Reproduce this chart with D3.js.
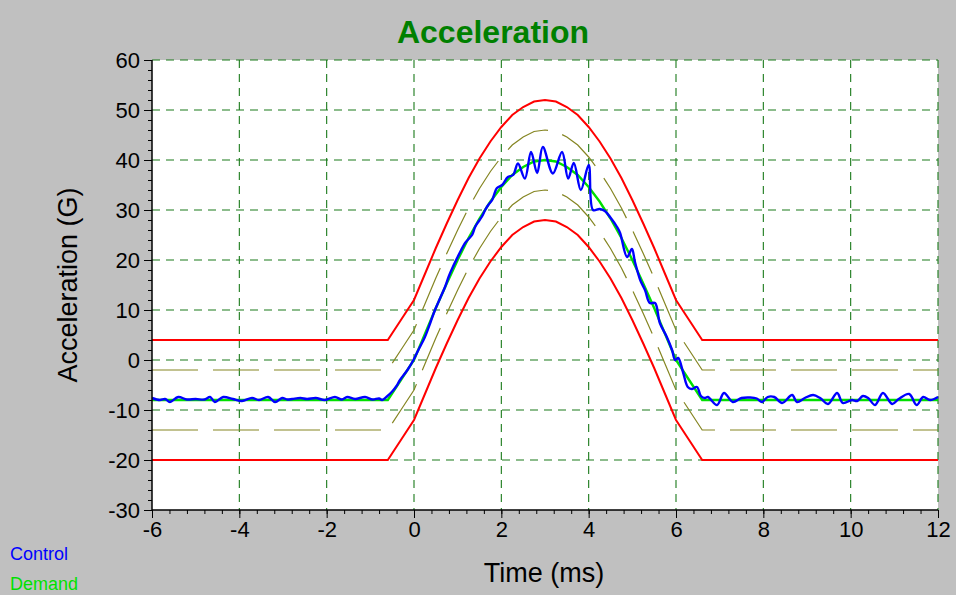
<!DOCTYPE html>
<html>
<head>
<meta charset="utf-8">
<script src="https://cdn.jsdelivr.net/npm/d3@7"></script>
<style>
  html, body { margin: 0; padding: 0; background: #c0c0c0; }
  svg { display: block; }
  text { font-family: "Liberation Sans", Arial, sans-serif; }
</style>
</head>
<body>
<svg id="chart" width="956" height="595"></svg>
<script>
// ---- Data ----
const chartTitle = "Acceleration";
const xLabel = "Time (ms)";
const yLabel = "Acceleration (G)";
const xTicks = [-6, -4, -2, 0, 2, 4, 6, 8, 10, 12];
const yTicks = [-30, -20, -10, 0, 10, 20, 30, 40, 50, 60];

// Reference profile time points (ms)
const profileTime = [-6, -0.6, -0.3, 0, 0.25, 0.5, 0.75, 1, 1.25, 1.5, 1.75, 2, 2.25, 2.5, 2.75, 3,
  3.25, 3.5, 3.75, 4, 4.25, 4.5, 4.75, 5, 5.25, 5.5, 5.75, 6, 6.3, 6.6, 12];
// Demand (G)
const demand = [-8, -8, -4, 0, 5.2, 10.4, 15.3, 20, 24.4, 28.3, 31.7, 34.6, 37, 38.6, 39.7, 40,
  39.7, 38.6, 37, 34.6, 31.7, 28.3, 24.4, 20, 15.3, 10.4, 5.2, 0, -4, -8, -8];
// Abort limits (red)
const abortUpper = [4, 4, 8, 12, 17.2, 22.4, 27.3, 32, 36.4, 40.3, 43.7, 46.6, 49, 50.6, 51.7, 52,
  51.7, 50.6, 49, 46.6, 43.7, 40.3, 36.4, 32, 27.3, 22.4, 17.2, 12, 8, 4, 4];
const abortLower = [-20, -20, -16, -12, -6.8, -1.6, 3.3, 8, 12.4, 16.3, 19.7, 22.6, 25, 26.6, 27.7, 28,
  27.7, 26.6, 25, 22.6, 19.7, 16.3, 12.4, 8, 3.3, -1.6, -6.8, -12, -16, -20, -20];
// Alarm limits (olive dashed)
const alarmUpper = [-2, -2, 2, 6, 11.2, 16.4, 21.3, 26, 30.4, 34.3, 37.7, 40.6, 43, 44.6, 45.7, 46,
  45.7, 44.6, 43, 40.6, 37.7, 34.3, 30.4, 26, 21.3, 16.4, 11.2, 6, 2, -2, -2];
const alarmLower = [-14, -14, -10, -6, -0.8, 4.4, 9.3, 14, 18.4, 22.3, 25.7, 28.6, 31, 32.6, 33.7, 34,
  33.7, 32.6, 31, 28.6, 25.7, 22.3, 18.4, 14, 9.3, 4.4, -0.8, -6, -10, -14, -14];

// Control (measured) time points and values
const controlTime = [-6, -5.82, -5.7, -5.59, -5.4, -5.2, -5.0, -4.8, -4.67, -4.56, -4.37, -4.15, -3.94,
  -3.71, -3.55, -3.34, -3.18, -3.02, -2.9, -2.79, -2.6, -2.45, -2.25, -2.04, -1.81, -1.65, -1.53, -1.35,
  -1.12, -0.95, -0.8, -0.73, -0.62, -0.5, -0.4, -0.32, -0.15, 0, 0.1, 0.25, 0.38, 0.48, 0.6, 0.71, 0.8,
  0.89, 1.0, 1.08, 1.17, 1.25, 1.33, 1.4, 1.47, 1.55, 1.63, 1.7, 1.79, 1.9, 2.02, 2.15, 2.27, 2.38, 2.54,
  2.68, 2.82, 2.95, 3.18, 3.39, 3.53, 3.66, 3.82, 4.0, 4.1, 4.25, 4.37, 4.49, 4.65, 4.72, 4.88, 4.99,
  5.06, 5.18, 5.29, 5.4, 5.52, 5.63, 5.79, 5.91, 5.98, 6.05, 6.16, 6.27, 6.36, 6.48, 6.57, 6.66, 6.73,
  6.94, 7.1, 7.3, 7.5, 7.7, 7.85, 7.97, 8.1, 8.25, 8.43, 8.66, 8.77, 8.95, 9.14, 9.3, 9.48, 9.69, 9.82,
  10.03, 10.15, 10.28, 10.4, 10.56, 10.74, 10.95, 11.1, 11.34, 11.51, 11.66, 11.82, 12];
const control = [-7.6, -8, -7.8, -8.4, -7.4, -7.9, -7.8, -7.9, -7.4, -8.4, -7.4, -7.8, -8.2,
  -7.6, -8.0, -7.4, -8.4, -7.6, -7.9, -7.8, -7.6, -7.8, -7.6, -8.0, -7.4, -7.9, -7.4, -7.8,
  -7.4, -7.9, -7.7, -8.0, -7.3, -6.3, -5.2, -4, -2, 0.2, 2, 4.6, 7.6, 10, 12.4, 14.6, 16.8,
  18.6, 20.6, 22, 23.4, 24.2, 25, 26.6, 27.6, 28.6, 30, 31, 32, 34.4, 35, 36.6, 37, 39.3, 36.3,
  41.6, 37.4, 42.6, 37.3, 41.6, 36.3, 39.4, 34, 39, 30, 30.2, 29.8, 28.6, 26.6, 25.4, 20.6, 22.2,
  19.6, 16, 14, 11.4, 11.4, 7.4, 4.6, 2, 0, 0.4, -2.4, -5.4, -5.8, -5.4, -7.2, -7.6, -7.4,
  -9, -6.6, -8.4, -7.6, -7.5, -7.7, -8.4, -7.4, -7.4, -8.6, -7, -8.4, -7.6, -7, -7.6, -8.8, -6.6, -8.6,
  -8, -8.2, -7.2, -7.6, -9, -6.6, -8.8, -7.8, -6.8, -9, -7.4, -8, -7.4];

const legendItems = [
  { name: "Control", color: "#0000ff" },
  { name: "Demand", color: "#00e000" }
];

// ---- Drawing ----
const svg = d3.select("#chart");
const W = 956, H = 595;
const plot = { left: 152, right: 938, top: 60, bottom: 510 };

svg.append("rect").attr("width", W).attr("height", H).attr("fill", "#c0c0c0");
svg.append("rect")
  .attr("x", plot.left).attr("y", plot.top)
  .attr("width", plot.right - plot.left).attr("height", plot.bottom - plot.top)
  .attr("fill", "#ffffff");

const x = d3.scaleLinear().domain([-6, 12]).range([plot.left, plot.right]);
const y = d3.scaleLinear().domain([-30, 60]).range([plot.bottom, plot.top]);

// Grid
const gridColor = "#1a7a1a";
const grid = svg.append("g");
grid.selectAll("line.vg").data(xTicks.filter(d => d > -6)).join("line")
  .attr("x1", d => x(d)).attr("x2", d => x(d))
  .attr("y1", plot.top).attr("y2", plot.bottom)
  .attr("stroke", gridColor).attr("stroke-width", 1.1).attr("stroke-dasharray", "8,6");
grid.selectAll("line.hg").data(yTicks.filter(d => d > -30)).join("line")
  .attr("x1", plot.left).attr("x2", plot.right)
  .attr("y1", d => y(d)).attr("y2", d => y(d))
  .attr("stroke", gridColor).attr("stroke-width", 1.1).attr("stroke-dasharray", "8,6");

// Lines
const profile = profileTime.map((t, i) => ({ t, i }));
const lineOf = arr => d3.line().x(d => x(d.t)).y(d => y(arr[d.i])).curve(d3.curveLinear);

svg.append("path").datum(profile).attr("d", lineOf(alarmUpper))
  .attr("fill", "none").attr("stroke", "#858522").attr("stroke-width", 1.2).attr("stroke-dasharray", "46,15");
svg.append("path").datum(profile).attr("d", lineOf(alarmLower))
  .attr("fill", "none").attr("stroke", "#858522").attr("stroke-width", 1.2).attr("stroke-dasharray", "46,15");
svg.append("path").datum(profile).attr("d", lineOf(abortUpper))
  .attr("fill", "none").attr("stroke", "#ff0000").attr("stroke-width", 2);
svg.append("path").datum(profile).attr("d", lineOf(abortLower))
  .attr("fill", "none").attr("stroke", "#ff0000").attr("stroke-width", 2);
svg.append("path").datum(profile).attr("d", lineOf(demand))
  .attr("fill", "none").attr("stroke", "#00e000").attr("stroke-width", 2.4);

const ctrl = controlTime.map((t, i) => ({ t, v: control[i] }));
svg.append("path").datum(ctrl)
  .attr("d", d3.line().x(d => x(d.t)).y(d => y(d.v)).curve(d3.curveCatmullRom.alpha(0.5)))
  .attr("fill", "none").attr("stroke", "#0000ff").attr("stroke-width", 2.4);

// Axes
const fontTick = 22;
const yMinor = d3.range(-30, 60.001, 2);
const xMinor = d3.range(-6, 12.001, 0.4);
const fmt = d => String(d);

const yAxisMinor = svg.append("g").attr("transform", `translate(${plot.left},0)`)
  .call(d3.axisLeft(y).tickValues(yMinor).tickSize(4).tickFormat(""));
const yAxis = svg.append("g").attr("transform", `translate(${plot.left},0)`)
  .call(d3.axisLeft(y).tickValues(yTicks).tickSize(8).tickPadding(4).tickFormat(fmt));
const xAxisMinor = svg.append("g").attr("transform", `translate(0,${plot.bottom})`)
  .call(d3.axisBottom(x).tickValues(xMinor).tickSize(4).tickFormat(""));
const xAxis = svg.append("g").attr("transform", `translate(0,${plot.bottom})`)
  .call(d3.axisBottom(x).tickValues(xTicks).tickSize(8).tickPadding(3).tickFormat(fmt));

[yAxisMinor, yAxis, xAxisMinor, xAxis].forEach(g => {
  g.selectAll("path.domain").attr("stroke", "#000").attr("stroke-width", 1.5);
  g.selectAll(".tick line").attr("stroke", "#000").attr("stroke-width", 1);
  g.selectAll(".tick text").attr("fill", "#000")
    .style("font-family", '"Liberation Sans", Arial, sans-serif').style("font-size", fontTick + "px");
});
yAxisMinor.select("path.domain").attr("d", `M0,${plot.bottom}V${plot.top}`);
xAxisMinor.select("path.domain").attr("d", `M${plot.left},0H${plot.right}`);
yAxis.select("path.domain").remove();
xAxis.select("path.domain").remove();

// Titles
svg.append("text").attr("x", 493).attr("y", 43).attr("text-anchor", "middle")
  .attr("fill", "#008000").style("font-size", "32px").style("font-weight", "bold").text(chartTitle);
svg.append("text").attr("x", 544).attr("y", 582).attr("text-anchor", "middle")
  .attr("fill", "#000").style("font-size", "27px").text(xLabel);
svg.append("text").attr("transform", `translate(77,${(plot.top + plot.bottom) / 2}) rotate(-90)`)
  .attr("text-anchor", "middle").attr("fill", "#000").style("font-size", "27px").text(yLabel);

// Legend
svg.selectAll("text.legend").data(legendItems).join("text")
  .attr("class", "legend")
  .attr("x", 10).attr("y", (d, i) => 560 + i * 30)
  .attr("fill", d => d.color).style("font-size", "18px").text(d => d.name);
</script>
</body>
</html>
